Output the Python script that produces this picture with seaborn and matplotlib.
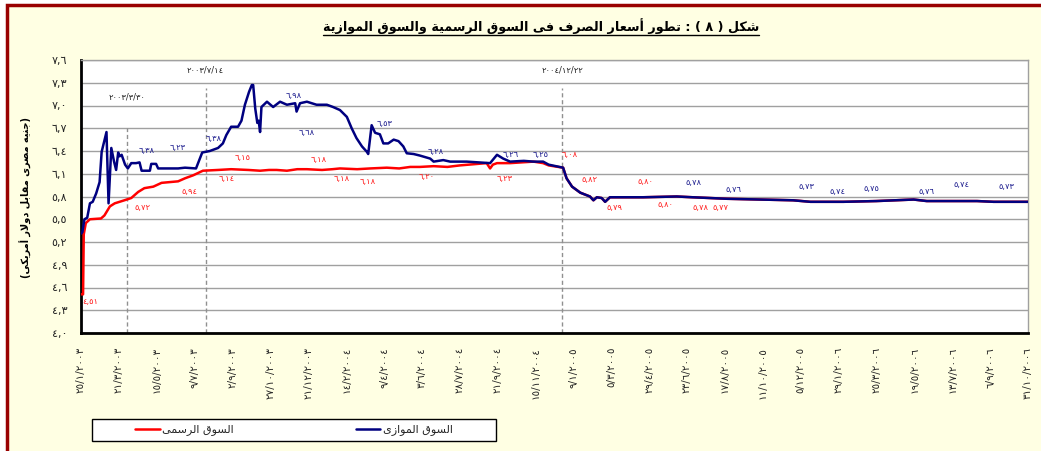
import numpy as np
import pandas as pd
import matplotlib
matplotlib.use("Agg")
import matplotlib.pyplot as plt
import seaborn as sns
from matplotlib.patches import Rectangle
from matplotlib.lines import Line2D

# ---------------- data ----------------
official_dates = ['2003-01-25', '2003-01-28', '2003-01-29', '2003-02-01', '2003-02-07', '2003-02-23',
                  '2003-02-28', '2003-03-08', '2003-03-15', '2003-03-29', '2003-04-08', '2003-04-18',
                  '2003-04-27', '2003-05-10', '2003-05-22', '2003-06-15', '2003-06-25', '2003-07-07',
                  '2003-07-21', '2003-08-12', '2003-08-31', '2003-09-25', '2003-10-12', '2003-10-25',
                  '2003-11-05', '2003-11-20', '2003-12-05', '2003-12-19', '2004-01-10', '2004-01-25',
                  '2004-02-05', '2004-03-01', '2004-03-20', '2004-04-13', '2004-05-01', '2004-05-17',
                  '2004-05-31', '2004-06-20', '2004-07-10', '2004-07-28', '2004-09-05', '2004-09-10',
                  '2004-09-14', '2004-09-20', '2004-10-09', '2004-11-12', '2004-11-26', '2004-12-04',
                  '2004-12-25', '2004-12-30', '2005-01-07', '2005-01-19', '2005-02-02', '2005-02-07',
                  '2005-02-12', '2005-02-19', '2005-02-24', '2005-03-03', '2005-04-20', '2005-06-08',
                  '2005-07-01', '2005-08-20', '2005-11-24', '2005-12-19', '2006-02-05', '2006-03-25',
                  '2006-05-18', '2006-06-06', '2006-08-18', '2006-09-11', '2006-10-31']
official_values = [4.51, 4.51, 5.30, 5.45, 5.50, 5.51,
                   5.55, 5.67, 5.71, 5.75, 5.78, 5.86,
                   5.91, 5.93, 5.98, 6.00, 6.04, 6.08,
                   6.14, 6.15, 6.16, 6.15, 6.14, 6.15,
                   6.15, 6.14, 6.16, 6.16, 6.15, 6.16,
                   6.17, 6.16, 6.17, 6.18, 6.17, 6.19,
                   6.19, 6.20, 6.19, 6.21, 6.24, 6.17,
                   6.22, 6.24, 6.24, 6.26, 6.24, 6.21,
                   6.18, 6.04, 5.93, 5.85, 5.80, 5.75,
                   5.79, 5.78, 5.73, 5.79, 5.79, 5.80,
                   5.79, 5.77, 5.75, 5.73, 5.73, 5.74,
                   5.76, 5.74, 5.74, 5.73, 5.73]

parallel_dates = ['2003-01-25', '2003-01-27', '2003-01-30', '2003-02-03', '2003-02-07', '2003-02-11',
                  '2003-02-16', '2003-02-21', '2003-02-24', '2003-03-03', '2003-03-06', '2003-03-10',
                  '2003-03-14', '2003-03-17', '2003-03-20', '2003-03-22', '2003-03-25', '2003-03-30',
                  '2003-04-03', '2003-04-08', '2003-04-15', '2003-04-20', '2003-04-23', '2003-05-05',
                  '2003-05-07', '2003-05-14', '2003-05-17', '2003-06-15', '2003-06-25', '2003-07-11',
                  '2003-07-14', '2003-07-20', '2003-07-31', '2003-08-12', '2003-08-19', '2003-08-24',
                  '2003-08-31', '2003-09-10', '2003-09-15', '2003-09-20', '2003-09-26', '2003-09-30',
                  '2003-10-02', '2003-10-05', '2003-10-08', '2003-10-10', '2003-10-12', '2003-10-14',
                  '2003-10-22', '2003-10-31', '2003-11-10', '2003-11-20', '2003-12-02', '2003-12-04',
                  '2003-12-09', '2003-12-19', '2004-01-02', '2004-01-17', '2004-01-26', '2004-02-05',
                  '2004-02-15', '2004-02-22', '2004-02-29', '2004-03-08', '2004-03-15', '2004-03-17',
                  '2004-03-22', '2004-03-27', '2004-04-03', '2004-04-08', '2004-04-15', '2004-04-23',
                  '2004-04-30', '2004-05-07', '2004-05-12', '2004-05-22', '2004-05-31', '2004-06-15',
                  '2004-06-20', '2004-07-04', '2004-07-14', '2004-08-07', '2004-09-10', '2004-09-20',
                  '2004-09-29', '2004-10-09', '2004-10-29', '2004-11-12', '2004-11-26', '2004-12-04',
                  '2004-12-25', '2004-12-30', '2005-01-07', '2005-01-19', '2005-02-02', '2005-02-07',
                  '2005-02-12', '2005-02-19', '2005-02-24', '2005-03-03', '2005-04-20', '2005-06-08',
                  '2005-07-01', '2005-08-20', '2005-11-24', '2005-12-19', '2006-02-05', '2006-03-25',
                  '2006-05-18', '2006-06-06', '2006-08-18', '2006-09-11', '2006-10-31']
parallel_values = [5.31, 5.33, 5.50, 5.52, 5.71, 5.73,
                   5.84, 5.99, 6.39, 6.65, 5.71, 6.44,
                   6.26, 6.15, 6.38, 6.33, 6.35, 6.22,
                   6.17, 6.24, 6.24, 6.25, 6.14, 6.14,
                   6.23, 6.23, 6.17, 6.17, 6.18, 6.17,
                   6.24, 6.38, 6.40, 6.44, 6.50, 6.61,
                   6.72, 6.72, 6.80, 7.01, 7.18, 7.27,
                   7.27, 6.96, 6.77, 6.80, 6.65, 6.98,
                   7.05, 6.98, 7.05, 7.01, 7.03, 6.92,
                   7.03, 7.05, 7.01, 7.01, 6.98, 6.94,
                   6.85, 6.70, 6.57, 6.46, 6.39, 6.36,
                   6.74, 6.64, 6.62, 6.50, 6.50, 6.55,
                   6.53, 6.46, 6.37, 6.36, 6.34, 6.30,
                   6.26, 6.28, 6.26, 6.26, 6.24, 6.35,
                   6.30, 6.26, 6.27, 6.26, 6.26, 6.22,
                   6.18, 6.04, 5.93, 5.85, 5.80, 5.75,
                   5.79, 5.78, 5.73, 5.79, 5.79, 5.80,
                   5.79, 5.77, 5.75, 5.73, 5.73, 5.74,
                   5.76, 5.74, 5.74, 5.73, 5.73]

official_label_values = [4.51, 5.72, 5.94, 6.14, 6.15, 6.18, 6.18, 6.18, 6.20, 6.23,
                         6.08, 5.82, 5.79, 5.80, 5.80, 5.78, 5.77]
official_label_dates = ['2003-02-07', '2003-04-25', '2003-07-02', '2003-08-25', '2003-09-17',
                        '2004-01-05', '2004-02-08', '2004-03-16', '2004-06-10', '2004-10-01',
                        '2005-01-04', '2005-02-02', '2005-03-10', '2005-04-23', '2005-05-22',
                        '2005-07-12', '2005-08-11']
official_label_y = [4.41, 5.65, 5.86, 6.04, 6.31, 6.29, 6.04, 6.00, 6.07, 6.04,
                    6.35, 6.02, 5.66, 6.00, 5.69, 5.66, 5.66]

parallel_label_values = [6.38, 6.23, 6.38, 6.98, 6.68, 6.53, 6.28, 6.26, 6.25,
                         5.78, 5.76, 5.73, 5.74, 5.75, 5.76, 5.74, 5.73]
parallel_label_dates = ['2003-04-30', '2003-06-15', '2003-08-06', '2003-11-30', '2003-12-18',
                        '2004-04-10', '2004-06-23', '2004-10-10', '2004-11-22', '2005-07-03',
                        '2005-08-30', '2005-12-13', '2006-01-27', '2006-03-18', '2006-06-06',
                        '2006-07-26', '2006-09-29']
parallel_label_y = [6.41, 6.45, 6.57, 7.13, 6.65, 6.76, 6.39, 6.36, 6.35,
                    5.98, 5.89, 5.93, 5.87, 5.90, 5.87, 5.96, 5.93]

event_dates = ['2003-04-02', '2003-07-25', '2004-12-24']
event_labels = ['2003/3/30', '2003/7/14', '2004/12/22']
event_line_top = [6.70, 7.23, 7.23]
event_label_y = [7.11, 7.47, 7.47]

title_text = "شكل ( ٨ ) : تطور أسعار الصرف فى السوق الرسمية والسوق الموازية"
ylabel_text = "(جنيه مصرى مقابل دولار أمريكى)"
series_names = ["السوق الرسمى", "السوق الموازى"]

# ---------------- Arabic helpers ----------------
FORMS = {
    'ا': (0xFE8D, 0xFE8E), 'أ': (0xFE83, 0xFE84), 'ة': (0xFE93, 0xFE94),
    'د': (0xFEA9, 0xFEAA), 'ر': (0xFEAD, 0xFEAE), 'ز': (0xFEAF, 0xFEB0),
    'و': (0xFEED, 0xFEEE),
    'ب': (0xFE8F, 0xFE90, 0xFE91, 0xFE92), 'ت': (0xFE95, 0xFE96, 0xFE97, 0xFE98),
    'ج': (0xFE9D, 0xFE9E, 0xFE9F, 0xFEA0), 'س': (0xFEB1, 0xFEB2, 0xFEB3, 0xFEB4),
    'ش': (0xFEB5, 0xFEB6, 0xFEB7, 0xFEB8), 'ص': (0xFEB9, 0xFEBA, 0xFEBB, 0xFEBC),
    'ط': (0xFEC1, 0xFEC2, 0xFEC3, 0xFEC4), 'ع': (0xFEC9, 0xFECA, 0xFECB, 0xFECC),
    'ف': (0xFED1, 0xFED2, 0xFED3, 0xFED4), 'ق': (0xFED5, 0xFED6, 0xFED7, 0xFED8),
    'ك': (0xFED9, 0xFEDA, 0xFEDB, 0xFEDC), 'ل': (0xFEDD, 0xFEDE, 0xFEDF, 0xFEE0),
    'م': (0xFEE1, 0xFEE2, 0xFEE3, 0xFEE4), 'ن': (0xFEE5, 0xFEE6, 0xFEE7, 0xFEE8),
    'ه': (0xFEE9, 0xFEEA, 0xFEEB, 0xFEEC), 'ى': (0xFEEF, 0xFEF0, 0xFBE8, 0xFBE9),
    'ي': (0xFEF1, 0xFEF2, 0xFEF3, 0xFEF4),
    '\uE001': (0xFEFB, 0xFEFC), '\uE002': (0xFEF7, 0xFEF8),
}
MIRROR = {'(': ')', ')': '('}


def shape_ar(s):
    s = s.replace('لا', '\uE001').replace('لأ', '\uE002')
    out = []
    n = len(s)
    for i, c in enumerate(s):
        if c not in FORMS:
            out.append(c)
            continue
        f = FORMS[c]
        prev_j = i > 0 and s[i - 1] in FORMS and len(FORMS[s[i - 1]]) == 4
        next_j = len(f) == 4 and i < n - 1 and s[i + 1] in FORMS
        if prev_j and next_j:
            out.append(chr(f[3]))
        elif prev_j:
            out.append(chr(f[1]))
        elif next_j:
            out.append(chr(f[2]))
        else:
            out.append(chr(f[0]))
    return ''.join(MIRROR.get(c, c) for c in reversed(out))


AR_DIG = str.maketrans('0123456789', '٠١٢٣٤٥٦٧٨٩')


def ar_num(v):
    return f"{v:.2f}".replace('.', ',').translate(AR_DIG)


# ---------------- figure ----------------
sns.set_style("white")
plt.rcParams['font.family'] = ['DejaVu Sans']

W, H = 1041, 451
fig = plt.figure(figsize=(W / 100, H / 100), dpi=100)
fig.patch.set_facecolor('white')
bg = Rectangle((7 / W, -0.2), 1.2, 1.2 - 5 / H, transform=fig.transFigure,
               facecolor='#FFFFE3', edgecolor='#990000', linewidth=2.5, zorder=-10)
fig.patches.append(bg)

ax = fig.add_axes([81 / W, 1 - 333 / H, (1028 - 81) / W, (333 - 60) / H])
ax.set_facecolor('white')

df_off = pd.DataFrame({'date': pd.to_datetime(official_dates), 'value': official_values})
df_par = pd.DataFrame({'date': pd.to_datetime(parallel_dates), 'value': parallel_values})

sns.lineplot(data=df_off, x='date', y='value', color='#FF0000', linewidth=1.8, ax=ax, zorder=3)
sns.lineplot(data=df_par, x='date', y='value', color='#000080', linewidth=1.8, ax=ax, zorder=4)

x0, x1 = pd.Timestamp('2003-01-25'), pd.Timestamp('2006-10-31')
ax.set_xlim(x0, x1)
ax.set_ylim(4.0, 7.6)

yt = np.round(np.arange(4.0, 7.61, 0.3), 1)
ax.set_yticks(yt)
ax.set_yticklabels([f"{v:.1f}".replace('.', ',').translate(AR_DIG) for v in yt], fontsize=8)
xt = pd.date_range(x0, x1, freq='55D')
ax.set_xticks(xt)
ax.set_xticklabels([f"{d.day}/{d.month}/{d.year}".translate(AR_DIG) for d in xt],
                   rotation=90, fontsize=7.5, va='top', ha='center')

ax.grid(axis='y', color='#A0A0A0', linewidth=1.0)
ax.grid(axis='x', visible=False)
ax.set_axisbelow(True)
for side in ['top', 'right']:
    ax.spines[side].set_color('#A0A0A0')
    ax.spines[side].set_linewidth(1.0)
for side in ['left', 'bottom']:
    ax.spines[side].set_color('black')
    ax.spines[side].set_linewidth(2.0)
ax.tick_params(axis='both', direction='out', length=5, width=1.2, color='black', pad=5)
ax.set_xlabel('')
ax.set_ylabel('')

# event lines
for d, lab, top, ly in zip(event_dates, event_labels, event_line_top, event_label_y):
    dd = pd.Timestamp(d)
    ax.plot([dd, dd], [4.0, top], color='#909090', linestyle=(0, (3, 2)), linewidth=1.0, zorder=2)
    ax.text(dd, ly, lab.translate(AR_DIG), ha='center', va='center', fontsize=6, color='#222222')

# value labels
for d, v, y in zip(official_label_dates, official_label_values, official_label_y):
    ax.text(pd.Timestamp(d), y, ar_num(v), ha='center', va='center', fontsize=6, color='#FF2020', zorder=5)
for d, v, y in zip(parallel_label_dates, parallel_label_values, parallel_label_y):
    ax.text(pd.Timestamp(d), y, ar_num(v), ha='center', va='center', fontsize=6, color='#202090', zorder=5)

# title & y label
t = fig.text(541 / W, 1 - 26 / H, shape_ar(title_text), ha='center', va='center',
             fontsize=9.2, fontweight='bold', color='black')
fig.text(26 / W, 1 - 197 / H, shape_ar(ylabel_text), ha='center', va='center',
         rotation=90, fontsize=7, fontweight='bold', color='black')

# legend
box = Rectangle((92 / W, 1 - 441 / H), 404 / W, 22 / H, transform=fig.transFigure,
                facecolor='white', edgecolor='black', linewidth=1.0, zorder=1)
fig.patches.append(box)
handles = [Line2D([], [], color='#FF0000', linewidth=1.8),
           Line2D([], [], color='#000080', linewidth=1.8)]
fig.legend(handles, [shape_ar(s) for s in series_names], ncol=2, loc='center',
           bbox_to_anchor=(294 / W, 1 - 430 / H), frameon=False, fontsize=8,
           handlelength=2.2, handletextpad=0.2, columnspacing=11.0)

# underline title
fig.canvas.draw()
bb = t.get_window_extent(fig.canvas.get_renderer())
uy = (bb.y0 - 1.0) / H
fig.add_artist(Line2D([bb.x0 / W, bb.x1 / W], [uy, uy], transform=fig.transFigure,
                      color='black', linewidth=1.0))

fig.savefig('out.png', dpi=100, facecolor=fig.get_facecolor())
